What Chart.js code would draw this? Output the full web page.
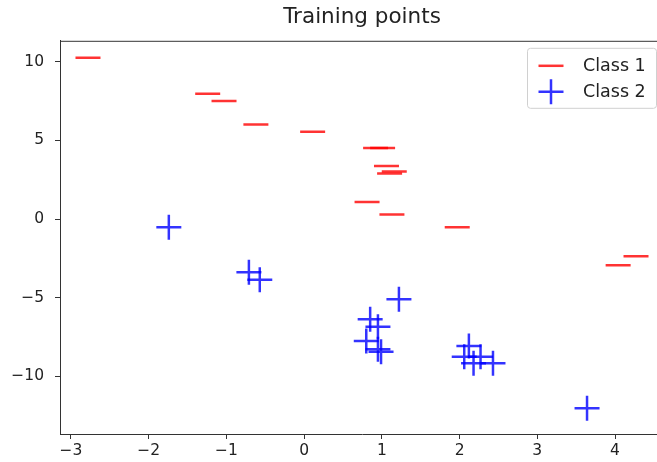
<!DOCTYPE html>
<html>
<head>
<meta charset="utf-8">
<script src="https://cdn.jsdelivr.net/npm/chart.js@4"></script>
<style>
    html, body { margin: 0; padding: 0; overflow: hidden; background: #fff; }
    #clip { width: 657px; height: 462px; overflow: hidden; position: relative; }
    #chart { display: block; }
</style>
</head>
<body>
<!-- the original axes run a little past the right edge of the picture, so the canvas is wider and clipped -->
<div id="clip"><canvas id="chart" width="679" height="462"></canvas></div>
<script>
const class1X = [-2.78, -1.24, -1.03, -0.62, 0.11, 0.92, 1.01, 1.06, 1.16, 1.10, 0.81, 1.13, 1.97, 4.27, 4.04]
const class1Y = [10.26, 7.97, 7.51, 6.02, 5.55, 4.52, 4.52, 3.37, 3.03, 2.90, 1.08, 0.28, -0.53, -2.37, -2.95]

const class2X = [-1.74, -0.71, -0.57, 1.22, 0.85, 0.95, 0.80, 0.95, 0.99, 2.12, 2.06, 2.18, 2.27, 2.43, 3.64]
const class2Y = [-0.53, -3.39, -3.86, -5.11, -6.38, -6.85, -7.76, -8.29, -8.44, -8.08, -8.76, -9.18, -8.76, -9.18, -12.04]

const xTicks = [-3, -2, -1, 0, 1, 2, 3, 4]
const yTicks = [-10, -5, 0, 5, 10]

const RED = "rgba(255, 0, 0, 0.8)"
const BLUE = "rgba(0, 0, 255, 0.8)"
const FONT = "'DejaVu Sans', sans-serif"

const toPoints = (xs, ys) => xs.map((x, i) => ({ x, y: ys[i] }))
const fmt = (v) => String(v).replace("-", "\u2212")

// top/right frame lines and the boxed legend, matplotlib style
const frameLegend = {
    id: "frameLegend",
    afterDraw(chart) {
        const { ctx, chartArea } = chart
        ctx.save()
        ctx.strokeStyle = "#333"
        ctx.lineWidth = 1
        ctx.beginPath()
        ctx.moveTo(chartArea.left, chartArea.top + 0.5)
        ctx.lineTo(chartArea.right, chartArea.top + 0.5)
        ctx.moveTo(chartArea.right - 0.5, chartArea.top)
        ctx.lineTo(chartArea.right - 0.5, chartArea.bottom)
        ctx.stroke()

        const w = 129, h = 60
        const lx = chartArea.right - 8 - w
        const ly = chartArea.top + 7
        ctx.fillStyle = "rgba(255,255,255,0.8)"
        ctx.strokeStyle = "#d0d0d0"
        ctx.beginPath()
        ctx.roundRect(lx + 0.5, ly + 0.5, w, h, 3)
        ctx.fill()
        ctx.stroke()

        ctx.font = "17.5px " + FONT
        ctx.textBaseline = "middle"
        ctx.fillStyle = "#222"
        chart.data.datasets.forEach((ds, i) => {
            const cy = ly + 18 + i * 26
            const cx = lx + 24
            ctx.strokeStyle = ds.pointBorderColor
            ctx.lineWidth = 2.5
            ctx.beginPath()
            ctx.moveTo(cx - 12.5, cy)
            ctx.lineTo(cx + 12.5, cy)
            if (ds.pointStyle == "cross") {
                ctx.moveTo(cx, cy - 12.5)
                ctx.lineTo(cx, cy + 12.5)
            }
            ctx.stroke()
            ctx.fillText(ds.label, lx + 56, cy + 1)
        })
        ctx.restore()
    },
}

const noScalePadding = (scale) => {
    scale.paddingLeft = 0
    scale.paddingRight = 0
    scale.paddingTop = 0
    scale.paddingBottom = 0
}

const axisCommon = {
    type: "linear",
    grid: {
        drawOnChartArea: false,
        drawTicks: true,
        tickLength: 5,
        color: "#333",
    },
    border: { display: true, color: "#333", width: 1 },
}

new Chart(document.getElementById("chart").getContext("2d"), {
    type: "scatter",
    plugins: [frameLegend],
    data: {
        datasets: [
            {
                label: "Class 1",
                data: toPoints(class1X, class1Y),
                pointStyle: "line",
                pointRadius: 12.5,
                pointHoverRadius: 12.5,
                pointBorderColor: RED,
                pointBackgroundColor: RED,
                pointBorderWidth: 2.5,
            },
            {
                label: "Class 2",
                data: toPoints(class2X, class2Y),
                pointStyle: "cross",
                pointRadius: 12.5,
                pointHoverRadius: 12.5,
                pointBorderColor: BLUE,
                pointBackgroundColor: BLUE,
                pointBorderWidth: 2.5,
            },
        ],
    },
    options: {
        responsive: false,
        animation: false,
        events: [],
        layout: { padding: { left: 0, right: 4, top: 0, bottom: 0 } },
        plugins: {
            legend: { display: false },
            tooltip: { enabled: false },
            title: {
                display: true,
                text: "Training points",
                fullSize: false,
                color: "#222",
                font: { family: FONT, size: 21.5, weight: "normal" },
                padding: { top: 5, bottom: 10 },
            },
        },
        scales: {
            x: {
                ...axisCommon,
                min: -3.14,
                max: 4.63,
                afterBuildTicks: (scale) => {
                    scale.ticks = xTicks.map((v) => ({ value: v }))
                },
                afterFit: (scale) => {
                    scale.height = 28
                    noScalePadding(scale)
                },
                ticks: {
                    padding: 3,
                    color: "#222",
                    font: { family: FONT, size: 15.5 },
                    callback: (v) => fmt(v),
                },
            },
            y: {
                ...axisCommon,
                min: -13.68,
                max: 11.34,
                afterBuildTicks: (scale) => {
                    scale.ticks = yTicks.map((v) => ({ value: v }))
                },
                afterFit: (scale) => {
                    scale.width = 60
                    noScalePadding(scale)
                },
                ticks: {
                    padding: 11,
                    color: "#222",
                    font: { family: FONT, size: 15.5 },
                    callback: (v) => fmt(v),
                },
            },
        },
    },
})
</script>
</body>
</html>
